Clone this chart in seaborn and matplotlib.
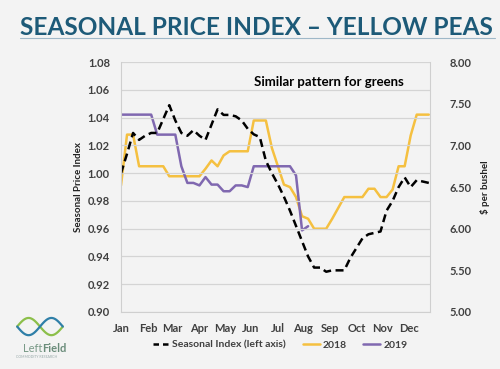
import matplotlib
matplotlib.use("Agg")
import matplotlib.pyplot as plt
import seaborn as sns
import numpy as np
import pandas as pd
from matplotlib.lines import Line2D

# weekly data, week 0 = start of Jan
seasonal_index = [1.000, 1.014, 1.029, 1.024, 1.027, 1.029, 1.029, 1.039, 1.049, 1.038,
                  1.029, 1.027, 1.031, 1.027, 1.024, 1.035, 1.046, 1.042, 1.042, 1.041,
                  1.038, 1.032, 1.028, 1.026, 1.009, 1.000, 0.992, 0.983, 0.973, 0.962,
                  0.951, 0.940, 0.932, 0.932, 0.929, 0.930, 0.930, 0.930, 0.939, 0.946,
                  0.953, 0.956, 0.957, 0.958, 0.973, 0.980, 0.990, 0.997, 0.990, 0.995,
                  0.994, 0.993]
price_2018 = [6.52, 7.13, 7.13, 6.75, 6.75, 6.75, 6.75, 6.75, 6.63, 6.63,
              6.63, 6.63, 6.63, 6.63, 6.72, 6.82, 6.75, 6.88, 6.93, 6.93,
              6.93, 6.93, 7.30, 7.30, 7.30, 6.97, 6.75, 6.53, 6.50, 6.38,
              6.15, 6.12, 6.00, 6.00, 6.00, 6.12, 6.25, 6.38, 6.38, 6.38,
              6.38, 6.48, 6.48, 6.38, 6.38, 6.47, 6.75, 6.75, 7.12, 7.37,
              7.37, 7.37]
price_2019 = [7.37, 7.37, 7.37, 7.37, 7.37, 7.37, 7.13, 7.13, 7.13, 7.13,
              6.75, 6.55, 6.55, 6.52, 6.62, 6.53, 6.53, 6.45, 6.45, 6.52,
              6.52, 6.50, 6.75, 6.75, 6.75, 6.75, 6.75, 6.75, 6.75, 6.64,
              5.98, 6.03]

months = ["Jan", "Feb", "Mar", "Apr", "May", "Jun", "Jul", "Aug", "Sep", "Oct", "Nov", "Dec"]
month_weeks = [0, 4.47, 8.44, 12.9, 17.2, 21.5, 26.0, 30.1, 34.6, 39.1, 43.4, 47.7]

left_ticks = [0.90, 0.92, 0.94, 0.96, 0.98, 1.00, 1.02, 1.04, 1.06, 1.08]
right_ticks = [5.00, 5.50, 6.00, 6.50, 7.00, 7.50, 8.00]

idx_df = pd.DataFrame({"week": np.arange(len(seasonal_index)), "value": seasonal_index})
df18 = pd.DataFrame({"week": np.arange(len(price_2018)), "value": price_2018})
df19 = pd.DataFrame({"week": np.arange(len(price_2019)), "value": price_2019})

sns.set_style("white")
plt.rcParams["font.family"] = ["Lato", "DejaVu Sans"]

BG = "#f3f3f3"
TXT = "#404040"
YELLOW = "#f5c040"
PURPLE = "#8068b0"

fig = plt.figure(figsize=(5, 3.69), dpi=100)
fig.patch.set_facecolor(BG)

# title, scaled so it spans the slide width like the original
title = fig.text(0.04, 0.906, "SEASONAL PRICE INDEX \u2013 YELLOW PEAS", fontsize=18,
                 fontweight="bold", color="#1d5a78", ha="left", va="baseline")
renderer = fig.canvas.get_renderer()
w = title.get_window_extent(renderer).width
title.set_fontsize(18 * 474 / w)
fig.add_artist(Line2D([0.04, 0.99], [0.898, 0.898], color="#9fb8c8", lw=0.8))

ax = fig.add_axes([0.242, 0.1545, 0.618, 0.677])
ax.set_facecolor(BG)
ax2 = ax.twinx()

sns.lineplot(data=df18, x="week", y="value", ax=ax2, color=YELLOW, lw=1.8)
sns.lineplot(data=df19, x="week", y="value", ax=ax2, color=PURPLE, lw=1.8)
sns.lineplot(data=idx_df, x="week", y="value", ax=ax, color="black", lw=1.8,
             linestyle=(0, (3.2, 1.8)))
ax.set_zorder(ax2.get_zorder() + 1)
ax.patch.set_visible(False)
ax2.patch.set_visible(True)
ax2.patch.set_facecolor(BG)

ax.set_xlim(0, 51.2)
ax.set_ylim(0.90, 1.08)
ax2.set_ylim(5.0, 8.0)
ax.set_yticks(left_ticks)
ax.set_yticklabels([f"{t:.2f}" for t in left_ticks])
ax2.set_yticks(right_ticks)
ax2.set_yticklabels([f"{t:.2f}" for t in right_ticks])
ax.set_xticks(month_weeks)
ax.set_xticklabels(months)

ax.grid(axis="y", color="#d4d4d4", lw=0.9)
ax.set_axisbelow(True)
ax2.grid(False)

for a in (ax, ax2):
    for s in a.spines.values():
        s.set_visible(False)
ax.spines["left"].set_visible(True)
ax.spines["left"].set_color("#cfcfcf")
ax.spines["bottom"].set_visible(True)
ax.spines["bottom"].set_color("#cfcfcf")
ax2.spines["right"].set_visible(True)
ax2.spines["right"].set_color("#cfcfcf")

ax.tick_params(axis="y", length=0, labelsize=8, labelcolor=TXT, pad=8)
ax2.tick_params(axis="y", length=0, labelsize=8, labelcolor=TXT, pad=14)
ax.tick_params(axis="x", length=3, color="#cfcfcf", labelsize=8, labelcolor=TXT, pad=5)
for lbl in ax.get_xticklabels() + ax.get_yticklabels() + ax2.get_yticklabels():
    lbl.set_fontweight("bold")

ax.set_xlabel("")
ax.set_ylabel("Seasonal Price Index", fontsize=7, fontweight="bold", color="#202020", labelpad=3)
ax2.set_ylabel("$ per bushel", fontsize=7, fontweight="bold", color="#202020", labelpad=6)

ax.text(0.43, 0.92, "Similar pattern for greens", transform=ax.transAxes,
        fontsize=9.5, fontweight="bold", color="black", ha="left", va="center")

handles = [
    Line2D([], [], color="black", lw=1.8, linestyle=(0, (2.2, 1.6))),
    Line2D([], [], color=YELLOW, lw=1.8),
    Line2D([], [], color=PURPLE, lw=1.8),
]
fig.legend(handles, ["Seasonal Index (left axis)", "2018", "2019"], loc="center",
           bbox_to_anchor=(0.56, 0.065), ncol=3, frameon=False, handlelength=1.6,
           handletextpad=0.3, columnspacing=1.6,
           prop={"size": 7.5, "weight": "bold"}, labelcolor=TXT)

# logo: small intertwined waves + name
logo = fig.add_axes([0.03, 0.08, 0.1, 0.07])
logo.axis("off")
t = np.linspace(0, 2 * np.pi, 60)
logo.plot(t, np.sin(t), color="#8cbf4a", lw=1.6)
logo.plot(t, -np.sin(t), color="#2f7fa8", lw=1.6)
logo.set_xlim(-0.3, 2 * np.pi + 0.3)
logo.set_ylim(-1.5, 1.5)
fig.text(0.085, 0.055, "Left", fontsize=8, color="#7a9a88", ha="right", va="center")
fig.text(0.085, 0.055, "Field", fontsize=8, fontweight="bold", color="#6a8c7a",
         ha="left", va="center")
fig.text(0.032, 0.03, "COMMODITY RESEARCH", fontsize=2.5, color="#99aaaa", ha="left")

fig.savefig("out.png", dpi=100, facecolor=BG)
